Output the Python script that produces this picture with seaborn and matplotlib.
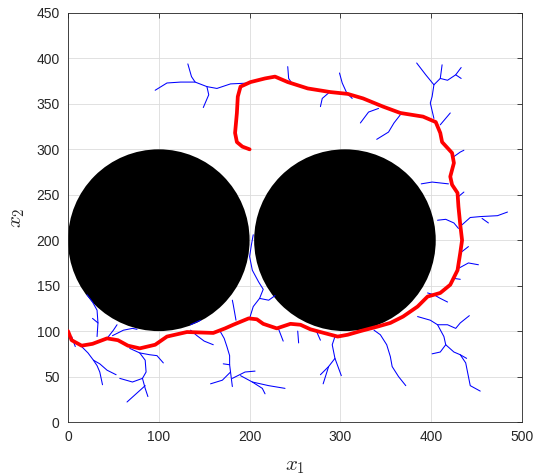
import matplotlib
matplotlib.use("Agg")
import matplotlib.pyplot as plt
from matplotlib.patches import Circle
import seaborn as sns
import pandas as pd

# ---- obstacles ----
obstacle_cx = [100, 305]
obstacle_cy = [200, 200]
obstacle_r = [100, 100]

# ---- final path (red) ----
path_x = [0, 4, 15, 27, 43, 55, 66, 79, 96, 109, 131, 160, 173, 182, 199, 208, 215, 230, 245, 256,
          267, 278, 297, 308, 322, 341, 355, 369, 385, 396, 410, 421, 429, 432, 434, 432, 430, 429,
          423, 421, 425, 423, 412, 410, 405, 391, 366, 347, 325, 308, 289, 264, 242, 228, 217, 201,
          190, 187, 186, 184, 186, 192, 200]
path_y = [100, 90, 84, 86, 92, 90, 84, 81, 85, 94, 99, 98, 103, 107, 114, 113, 108, 103, 108, 107,
          102, 99, 94, 96, 100, 105, 109, 116, 127, 138, 142, 151, 167, 186, 200, 217, 237, 252,
          261, 270, 285, 296, 308, 318, 330, 336, 340, 347, 356, 361, 363, 367, 374, 380, 378, 374,
          369, 358, 340, 318, 308, 303, 300]

# ---- tree branches (blue), each a list of (x, y) ----
b_tl_main = [(201, 373), (179, 372), (164, 367), (153, 369), (140, 374), (124, 374), (109, 373), (96, 365)]
b_tl_up = [(140, 374), (136, 380), (132, 394)]
b_tl_down = [(153, 369), (155, 360), (149, 346)]
b_a1 = [(247, 372), (243, 378), (242, 391)]
b_a2 = [(287, 362), (280, 356), (278, 347)]
b_a3 = [(313, 356), (307, 362), (302, 373), (299, 384)]
b_a4 = [(342, 345), (331, 341), (322, 329)]
b_a5 = [(366, 338), (359, 329), (353, 319), (340, 311)]
b_tr_trunk = [(403, 334), (399, 351), (401, 358), (403, 371), (394, 382), (384, 395)]
b_tr_up = [(403, 371), (410, 378), (412, 393)]
b_tr_right = [(410, 378), (418, 376), (427, 382), (433, 390)]
b_tr_right2 = [(427, 382), (433, 378)]
b_r1 = [(410, 327), (421, 340)]
b_rb1 = [(425, 292), (432, 297), (436, 299)]
b_l2 = [(419, 262), (410, 263), (401, 264), (389, 262)]
b_b2 = [(430, 248), (436, 253)]
b_l3 = [(430, 213), (425, 219), (416, 223), (407, 222)]
b_r2 = [(434, 217), (443, 225), (454, 226), (473, 227), (484, 231)]
b_r2b = [(456, 224), (463, 219)]
b_b3 = [(432, 186), (441, 193)]
b_b4 = [(430, 169), (441, 175), (452, 173)]
b_b5 = [(425, 158), (432, 157)]
b_br1 = [(396, 142), (403, 140), (410, 136), (418, 132)]
b_lr1 = [(385, 116), (399, 112), (407, 107), (414, 94), (416, 85), (410, 77), (401, 75)]
b_lr1b = [(416, 85), (425, 77), (432, 74), (439, 70)]
b_lr1c = [(432, 74), (438, 65), (441, 50), (443, 40), (454, 34)]
b_lr1d = [(407, 107), (418, 107), (427, 103), (432, 109), (442, 117)]
b_mid = [(337, 101), (344, 96), (351, 85), (355, 72), (357, 61), (364, 50), (372, 40)]
b_m1 = [(294, 94), (291, 85), (294, 70), (287, 61), (278, 52)]
b_m1b = [(287, 61), (281, 42)]
b_m1c = [(294, 70), (301, 51)]
b_t1 = [(232, 102), (237, 89)]
b_t2 = [(253, 100), (254, 87)]
b_t3 = [(274, 99), (278, 90)]
b_g1 = [(168, 99), (172, 92), (175, 83), (178, 73), (178, 63), (179, 55), (181, 39)]
b_g1b = [(178, 63), (171, 64)]
b_g1c = [(179, 55), (170, 46), (157, 42)]
b_g1d = [(181, 48), (195, 55), (206, 56)]
b_g1e = [(190, 51), (203, 44), (214, 37), (217, 31)]
b_g1f = [(203, 44), (221, 40), (239, 37)]
b_gap = [(200, 114), (204, 127), (211, 136), (215, 146), (210, 154), (203, 167), (200, 182), (202, 195), (204, 206)]
b_gap2 = [(211, 136), (221, 134), (228, 139)]
b_gap3 = [(185, 112), (182, 129), (181, 134)]
b_bl1 = [(32, 94), (33, 109), (32, 123), (27, 132), (21, 140)]
b_bl1b = [(33, 109), (27, 114)]
b_bl2 = [(43, 92), (50, 101), (54, 107)]
b_bl3 = [(49, 95), (61, 101), (71, 103), (76, 102)]
b_bl4 = [(15, 83), (22, 76), (28, 68), (32, 62), (35, 55), (38, 41)]
b_bl4b = [(28, 68), (35, 64), (43, 57), (53, 52)]
b_bl5 = [(4, 94), (8, 83)]
b_bm1 = [(68, 81), (79, 76), (85, 68), (86, 55), (82, 48)]
b_bm1a = [(82, 48), (71, 44), (57, 48)]
b_bm1b = [(82, 48), (85, 37), (88, 28)]
b_bm1c = [(85, 40), (75, 31), (65, 22)]
b_bm1d = [(79, 76), (90, 74), (98, 73), (105, 65)]
b_bx1 = [(135, 101), (142, 95), (150, 89), (160, 85)]
b_bx2 = [(135, 107), (146, 112)]

branches = [b_tl_main, b_tl_up, b_tl_down, b_a1, b_a2, b_a3, b_a4, b_a5,
            b_tr_trunk, b_tr_up, b_tr_right, b_tr_right2, b_r1, b_rb1, b_l2, b_b2,
            b_l3, b_r2, b_r2b, b_b3, b_b4, b_b5, b_br1, b_lr1, b_lr1b, b_lr1c, b_lr1d,
            b_mid, b_m1, b_m1b, b_m1c, b_t1, b_t2, b_t3, b_g1, b_g1b, b_g1c, b_g1d,
            b_g1e, b_g1f, b_gap, b_gap2, b_gap3, b_bl1, b_bl1b, b_bl2, b_bl3, b_bl4,
            b_bl4b, b_bl5, b_bm1, b_bm1a, b_bm1b, b_bm1c, b_bm1d, b_bx1, b_bx2]

x_ticks = [0, 100, 200, 300, 400, 500]
y_ticks = [0, 50, 100, 150, 200, 250, 300, 350, 400, 450]

rows = []
for i, br in enumerate(branches):
    for (bx, by) in br:
        rows.append({"x": bx, "y": by, "branch": i})
tree_df = pd.DataFrame(rows)
path_df = pd.DataFrame({"x": path_x, "y": path_y})

sns.set_theme(style="white")
plt.rcParams["font.family"] = ["Liberation Sans", "DejaVu Sans"]
plt.rcParams["mathtext.fontset"] = "cm"

fig = plt.figure(figsize=(5.34, 4.75), dpi=100)
ax = fig.add_axes([68 / 534, 53 / 475, 454 / 534, 409 / 475])

for cx, cy, r in zip(obstacle_cx, obstacle_cy, obstacle_r):
    ax.add_patch(Circle((cx, cy), r, facecolor="black", edgecolor="none", zorder=1))

sns.lineplot(data=tree_df, x="x", y="y", units="branch", estimator=None, sort=False,
             color=(0, 0, 1), linewidth=0.75, ax=ax, zorder=2,
             solid_joinstyle="round", solid_capstyle="round")
sns.lineplot(data=path_df, x="x", y="y", sort=False, estimator=None, color=(1, 0, 0),
             linewidth=2.7, ax=ax, zorder=3, solid_capstyle="round", solid_joinstyle="round")

ax.set_xlim(0, 500)
ax.set_ylim(0, 450)
ax.set_xticks(x_ticks)
ax.set_yticks(y_ticks)
ax.set_xticklabels([str(v) for v in x_ticks])
ax.set_yticklabels([str(v) for v in y_ticks])
ax.grid(True, color="#dcdcdc", linewidth=0.6)
ax.set_axisbelow(True)
for s in ax.spines.values():
    s.set_visible(True)
    s.set_color("#262626")
    s.set_linewidth(0.6)
ax.tick_params(direction="in", length=3.5, width=0.6, colors="#262626",
               top=True, right=True, labelsize=10, pad=6)
ax.set_xlabel(r"$x_1$", fontsize=15, color="#262626", labelpad=9)
ax.set_ylabel(r"$x_2$", fontsize=15, color="#262626", labelpad=7)

fig.savefig("out.png", dpi=100)
